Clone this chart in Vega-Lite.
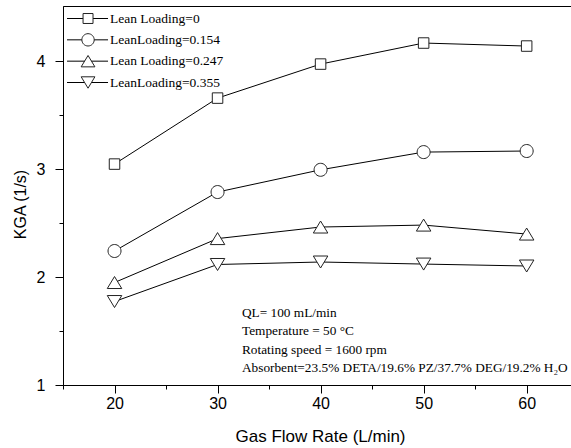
{
  "$schema": "https://vega.github.io/schema/vega-lite/v6.json",
  "autosize": "none",
  "width": 509,
  "height": 379,
  "padding": {"left": 63, "top": 6, "right": 0, "bottom": 63},
  "background": "white",
  "config": {
    "view": {"stroke": "black", "strokeWidth": 1},
    "axis": {"domainColor": "black", "tickColor": "black", "labelColor": "black", "titleColor": "black", "labelFont": "Liberation Sans", "titleFont": "Liberation Sans", "titleFontWeight": "normal", "grid": false}
  },
  "data": {
    "values": [
      {"flow": 20, "kga": 3.046, "series": "Lean Loading=0"},
      {"flow": 30, "kga": 3.657, "series": "Lean Loading=0"},
      {"flow": 40, "kga": 3.972, "series": "Lean Loading=0"},
      {"flow": 50, "kga": 4.167, "series": "Lean Loading=0"},
      {"flow": 60, "kga": 4.139, "series": "Lean Loading=0"},
      {"flow": 20, "kga": 2.241, "series": "LeanLoading=0.154"},
      {"flow": 30, "kga": 2.787, "series": "LeanLoading=0.154"},
      {"flow": 40, "kga": 2.993, "series": "LeanLoading=0.154"},
      {"flow": 50, "kga": 3.157, "series": "LeanLoading=0.154"},
      {"flow": 60, "kga": 3.167, "series": "LeanLoading=0.154"},
      {"flow": 20, "kga": 1.949, "series": "Lean Loading=0.247"},
      {"flow": 30, "kga": 2.356, "series": "Lean Loading=0.247"},
      {"flow": 40, "kga": 2.463, "series": "Lean Loading=0.247"},
      {"flow": 50, "kga": 2.481, "series": "Lean Loading=0.247"},
      {"flow": 60, "kga": 2.398, "series": "Lean Loading=0.247"},
      {"flow": 20, "kga": 1.773, "series": "LeanLoading=0.355"},
      {"flow": 30, "kga": 2.116, "series": "LeanLoading=0.355"},
      {"flow": 40, "kga": 2.139, "series": "LeanLoading=0.355"},
      {"flow": 50, "kga": 2.120, "series": "LeanLoading=0.355"},
      {"flow": 60, "kga": 2.102, "series": "LeanLoading=0.355"}
    ]
  },
  "resolve": {"scale": {"y": "independent"}},
  "layer": [
    {
      "encoding": {
        "x": {
          "field": "flow", "type": "quantitative",
          "scale": {"domain": [15, 64.4], "nice": false, "zero": false},
          "axis": {
            "title": "Gas Flow Rate (L/min)",
            "values": [15, 20, 25, 30, 35, 40, 45, 50, 55, 60],
            "format": ".0f",
            "labelExpr": "datum.value % 10 === 0 ? datum.label : ''",
            "tickSize": {"condition": {"test": "datum.value % 10 === 0", "value": 8}, "value": 4},
            "labelFontSize": 16, "labelPadding": 2,
            "titleFontSize": 17, "titleX": 257, "titleY": 51, "titleBaseline": "middle", "titleAlign": "center",
            "labelFlush": false, "labelOverlap": false
          }
        },
        "y": {
          "field": "kga", "type": "quantitative",
          "scale": {"domain": [1, 4.51], "nice": false, "zero": false},
          "axis": {
            "title": "KGA (1/s)",
            "values": [1, 1.5, 2, 2.5, 3, 3.5, 4],
            "format": ".0f",
            "labelExpr": "datum.value % 1 === 0 ? datum.label : ''",
            "tickSize": {"condition": {"test": "datum.value % 1 === 0", "value": 8}, "value": 4},
            "labelFontSize": 16, "labelPadding": 10,
            "titleFontSize": 16, "titleX": -43, "titleY": 198, "titleBaseline": "middle", "titleAlign": "center", "titleAngle": -90,
            "labelFlush": false, "labelOverlap": false
          }
        }
      },
      "layer": [
        {
          "mark": {"type": "line", "color": "black", "strokeWidth": 1},
          "encoding": {"detail": {"field": "series"}}
        },
        {
          "mark": {"type": "point", "filled": false, "fill": "white", "fillOpacity": 1, "stroke": "#222", "strokeWidth": 1, "size": 100, "opacity": 1},
          "encoding": {
            "shape": {
              "field": "series", "type": "nominal",
              "scale": {
                "domain": ["Lean Loading=0", "LeanLoading=0.154", "Lean Loading=0.247", "LeanLoading=0.355"],
                "range": [
                  "M-1.05,-1.05H1.05V1.05H-1.05Z",
                  "M1.3,0A1.3,1.3,0,1,1,-1.3,0A1.3,1.3,0,1,1,1.3,0Z",
                  "M0,-1.2L1.45,1.2H-1.45Z",
                  "M0,1.2L1.45,-1.2H-1.45Z"
                ]
              },
              "legend": null
            }
          }
        },
        {
          "transform": [{"filter": "datum.flow === 20 && datum.series === 'Lean Loading=0'"}],
          "mark": {"type": "text", "align": "left", "baseline": "alphabetic", "font": "Liberation Serif", "fontSize": 13.3, "lineHeight": 18.5, "fill": "black"},
          "encoding": {
            "x": {"datum": 32.37, "type": "quantitative"},
            "y": {"datum": 1.63, "type": "quantitative"},
            "text": {"value": ["QL= 100 mL/min", "Temperature = 50 °C", "Rotating speed = 1600 rpm", "Absorbent=23.5% DETA/19.6% PZ/37.7% DEG/19.2% H₂O"]}
          }
        }
      ]
    },
    {
      "transform": [{"filter": "datum.flow === 20"}],
      "encoding": {
        "y": {
          "field": "series", "type": "nominal",
          "scale": {"type": "point", "domain": ["Lean Loading=0", "LeanLoading=0.154", "Lean Loading=0.247", "LeanLoading=0.355"], "range": [12.5, 76.5], "padding": 0},
          "axis": null
        }
      },
      "layer": [
        {
          "mark": {"type": "rule", "color": "black", "strokeWidth": 1},
          "encoding": {"x": {"datum": 15.39, "type": "quantitative"}, "x2": {"datum": 19.37}}
        },
        {
          "mark": {"type": "point", "filled": false, "fill": "white", "fillOpacity": 1, "stroke": "#222", "strokeWidth": 1, "size": 90, "opacity": 1},
          "encoding": {
            "x": {"datum": 17.43, "type": "quantitative"},
            "shape": {"field": "series", "type": "nominal", "legend": null}
          }
        },
        {
          "mark": {"type": "text", "align": "left", "baseline": "middle", "font": "Liberation Serif", "fontSize": 13.5, "fill": "black"},
          "encoding": {
            "x": {"datum": 19.56, "type": "quantitative"},
            "text": {"field": "series"}
          }
        }
      ]
    }
  ]
}
